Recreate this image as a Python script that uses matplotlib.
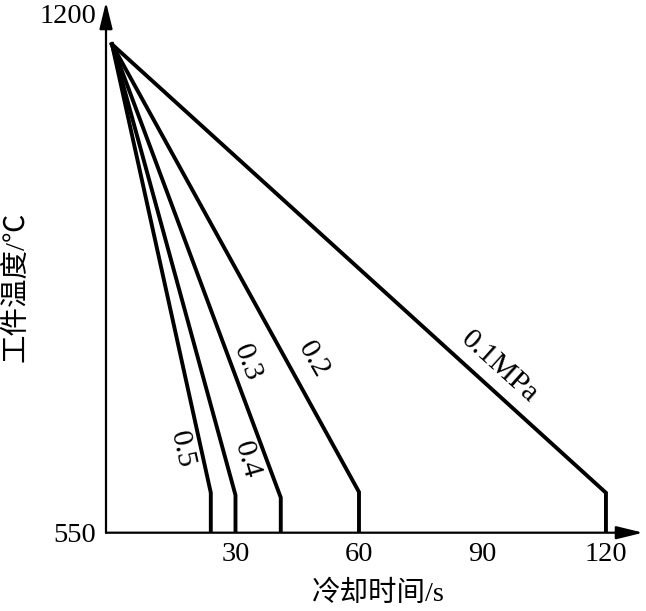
import matplotlib
matplotlib.use("Agg")
import matplotlib.pyplot as plt

# cooling curves for different gas pressures
pressures = ["0.1MPa", "0.2", "0.3", "0.4", "0.5"]
start_time = [0, 0, 0, 0, 0]
start_temp = [1162, 1162, 1162, 1162, 1162]
end_time = [120, 60, 41, 30, 24]
knee_temp = [600, 601, 594, 597, 600]
bottom_temp = 550

# label positions (data units) and angles
label_t = [94.2, 48.8, 32.8, 32.8, 17.0]
label_T = [758, 767, 763, 641, 654]
label_rot = [-42, -60, -69, -74, -77.5]

xticks = [30, 60, 90, 120]
yticks = [550, 1200]

plt.rcParams['font.family'] = ['Liberation Serif', 'Noto Sans CJK SC']

fig = plt.figure(figsize=(6.46, 6.11), dpi=100)
ax = fig.add_axes([106/646, (611-532.7)/611, (643-106)/646, (532.7-2)/611])

for i in range(len(pressures)):
    ax.plot([start_time[i], end_time[i], end_time[i]],
            [start_temp[i], knee_temp[i], bottom_temp],
            color='k', lw=2.8, solid_joinstyle='miter')
    ax.text(label_t[i], label_T[i], pressures[i], fontsize=21.5,
            rotation=label_rot[i], rotation_mode='anchor',
            ha='center', va='center')

ax.set_xlim(-1.46, 129)
ax.set_ylim(550, 1215)
ax.set_xticks(xticks)
ax.set_yticks(yticks)
ax.tick_params(length=0, labelsize=20.5, pad=7)
for s in ['top', 'right', 'left', 'bottom']:
    ax.spines[s].set_visible(False)

# axes with arrows
ax.annotate('', xy=(1, 0), xytext=(0, 0), xycoords='axes fraction',
            arrowprops=dict(arrowstyle='-|>,head_length=0.9,head_width=0.22',
                            lw=1.6, color='k', mutation_scale=18, shrinkA=0, shrinkB=0))
ax.annotate('', xy=(0, 1), xytext=(0, 0), xycoords='axes fraction',
            arrowprops=dict(arrowstyle='-|>,head_length=0.9,head_width=0.22',
                            lw=1.6, color='k', mutation_scale=18, shrinkA=0, shrinkB=0))

fig.text(378/646, 1 - 594/611, '冷却时间/s', fontsize=20.5, ha='center', va='center')
fig.text(16/646, 1 - 287/611, '工件温度/℃', fontsize=20.5, ha='center', va='center',
         rotation=90)

fig.savefig('out.png', dpi=100)
